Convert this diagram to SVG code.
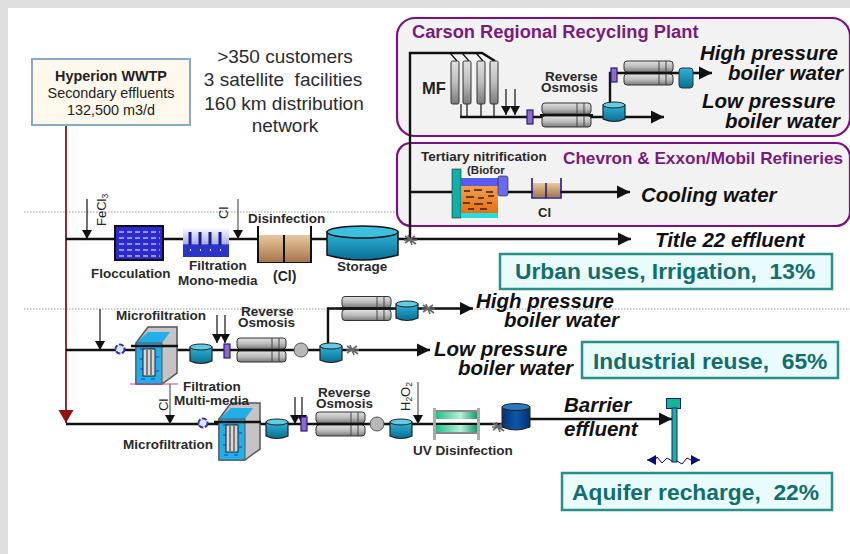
<svg xmlns="http://www.w3.org/2000/svg" width="850" height="554" viewBox="0 0 850 554">
<style>
text{font-family:"Liberation Sans",Arial,sans-serif;fill:#222}
.b{font-weight:bold}
.hy{font-size:14.4px;text-anchor:middle}
.lab{font-weight:bold;font-size:13.5px;fill:#2a2a2a}
.it{font-weight:bold;font-style:italic;font-size:20.5px;fill:#111}
.pur{font-weight:bold;fill:#7a1a80}
.info{font-size:19px;text-anchor:middle;fill:#2c2c2c;white-space:pre}
.res{font-weight:bold;font-size:22.8px;fill:#116e6e;white-space:pre}
.rbox{fill:#e9fbfb;stroke:#2a8f8a;stroke-width:2.5}
.plant{fill:#f2f2f2;stroke:#7d0f82;stroke-width:2.2}
.main{fill:none;stroke:#111;stroke-width:2.4}
.thin{fill:none;stroke:#111;stroke-width:1.2}
.gr{fill:none;stroke:#555;stroke-width:1.2}
.dot{stroke:#999;stroke-width:1;stroke-dasharray:1.5 1.5}
.pv{fill:#8a6cc0;stroke:#2a1a90;stroke-width:1.2}
</style>
<defs>
<linearGradient id="gD" x1="0" x2="1" y1="0" y2="0"><stop offset="0" stop-color="#06306f"/><stop offset=".5" stop-color="#0c58a8"/><stop offset="1" stop-color="#06306f"/></linearGradient>
<linearGradient id="gS" x1="0" x2="0" y1="0" y2="1"><stop offset="0" stop-color="#2fb4da"/><stop offset="1" stop-color="#0a6d92"/></linearGradient>
<linearGradient id="gR" x1="0" x2="0" y1="0" y2="1"><stop offset="0" stop-color="#e0e0e0"/><stop offset=".5" stop-color="#bdbdbd"/><stop offset="1" stop-color="#7a7a7a"/></linearGradient>
<linearGradient id="gC" x1="0" x2="0" y1="0" y2="1"><stop offset="0" stop-color="#e8c8a0"/><stop offset="1" stop-color="#a8764a"/></linearGradient>
<linearGradient id="gF" x1="0" x2="0" y1="0" y2="1"><stop offset="0" stop-color="#ffffff"/><stop offset=".55" stop-color="#aab0ea"/><stop offset=".6" stop-color="#2a34c8"/><stop offset="1" stop-color="#2a34c8"/></linearGradient>
<linearGradient id="gU" x1="0" x2="1" y1="0" y2="0"><stop offset="0" stop-color="#22c088"/><stop offset=".6" stop-color="#b8f0d8"/><stop offset="1" stop-color="#1a9a70"/></linearGradient>
<linearGradient id="gB" x1="0" x2="0" y1="0" y2="1"><stop offset="0" stop-color="#f0a050"/><stop offset="1" stop-color="#e87010"/></linearGradient>
<marker id="big" markerUnits="userSpaceOnUse" markerWidth="14" markerHeight="14" refX="13" refY="7" orient="auto"><path d="M0,0.5 L13,7 L0,13.5 Z" fill="#111"/></marker>
<marker id="sm" markerUnits="userSpaceOnUse" markerWidth="10" markerHeight="10" refX="9" refY="5" orient="auto"><path d="M0,0 L9,5 L0,10 Z" fill="#111"/></marker>
<marker id="red" markerUnits="userSpaceOnUse" markerWidth="14" markerHeight="16" refX="13" refY="8" orient="auto"><path d="M0,0.500 L13,8 L0,15.500 Z" fill="#8e1414"/></marker>
<marker id="nv" markerUnits="userSpaceOnUse" markerWidth="10" markerHeight="10" refX="9" refY="5" orient="auto"><path d="M0,0 L9,5 L0,10 Z" fill="#0a0a78"/></marker>
<g id="tank"><path d="M0,4 V18 Q11,23 22,18 V4 Z" fill="url(#gS)" stroke="#222" stroke-width="1.2"/><ellipse cx="11" cy="4" rx="11" ry="3" fill="#62cbe6" stroke="#222"/></g>
<g id="ro"><rect x="0" y="0" width="49" height="11" rx="3" fill="url(#gR)" stroke="#333"/><rect x="0" y="13" width="49" height="11" rx="3" fill="url(#gR)" stroke="#333"/><path d="M35,0 V24 M42,0 V24" stroke="#444" fill="none"/><path d="M-2,12 H51" stroke="#111" stroke-width="2.2"/></g>
<g id="mf"><path d="M0,16 L12,0 H41 V46 L26,57 H0 Z" fill="#c4c4c4" stroke="#555" stroke-width="1.5"/><path d="M0,16 L12,5 H34 L26,16 Z" fill="#22aee8"/><rect x="0" y="16" width="26" height="41" fill="#22aee8" stroke="#555"/><path d="M4,22 h4 M14,22 h4 M4,32 h3 M20,30 h3 M4,42 h3 M20,44 h3 M5,52 h4 M15,52 h4" stroke="#1a40c0" stroke-width="1.2"/><rect x="7" y="22" width="12" height="27" fill="#d8d8d8" stroke="#222"/><path d="M11,23 V48 M15,23 V48" stroke="#222"/><path d="M-5,19 H42" stroke="#111" stroke-width="2.4"/></g>
<g id="valve"><circle cx="0" cy="0" r="4.5" fill="#dfe6ff" stroke="#3434c0" stroke-width="2" stroke-dasharray="5 1.500"/></g>
<g id="splat"><path d="M-5,-4 L6,4 M-5,3 L5,-4 M-2,-5 L2,5 M-6,0 H7" stroke="#666" stroke-width="1.6"/></g>
</defs>

<rect width="850" height="554" fill="#dcdee0"/>
<rect x="8" y="8" width="842" height="546" fill="#fff"/>
<path class="dot" d="M24,212 H400 M24,309 H850"/>

<g id="plant-carson"><rect class="plant" x="397" y="18" width="453" height="118" rx="18"/></g>
<g id="plant-refineries"><rect class="plant" x="397" y="143" width="453" height="83" rx="14"/></g>

<g id="connectors">
<path d="M66,125 V423" fill="none" stroke="#8e1414" stroke-width="1.8" marker-end="url(#red)"/>
<path class="main" d="M66,239 H631" marker-end="url(#big)"/>
<path class="main" d="M66,350 H430" marker-end="url(#big)"/>
<path class="main" d="M328,345 V308.500 H473" marker-end="url(#big)"/>
<path class="main" d="M66,424 H502"/>
<path class="main" d="M530,419 H672" marker-end="url(#big)"/>
<path class="main" d="M410,239 V53 H482 L495,61"/>
<path class="main" d="M410,192 H630" marker-end="url(#big)"/>
<path class="main" d="M460,117 H664" marker-end="url(#big)"/>
<path class="main" d="M610,105 V73 H712" marker-end="url(#big)"/>
<path class="thin" d="M87,199 V239" marker-end="url(#sm)"/>
<path class="gr" d="M238,199 V239" marker-end="url(#sm)"/>
<path class="thin" d="M100,309 V350" marker-end="url(#sm)"/>
<path class="thin" d="M217,315 V343" marker-end="url(#sm)"/>
<path class="thin" d="M225,315 V343" marker-end="url(#sm)"/>
<path class="gr" d="M170,384 V424" marker-end="url(#sm)"/>
<path class="thin" d="M295,397 V424" marker-end="url(#sm)"/>
<path class="thin" d="M302,397 V424" marker-end="url(#sm)"/>
<path class="gr" d="M418,382 V424" marker-end="url(#sm)"/>
<path class="thin" d="M506,89 V115" marker-end="url(#sm)"/>
<path class="thin" d="M515,89 V115" marker-end="url(#sm)"/>
<path class="thin" d="M455,61 V104 M467,61 V117 M481,61 V117 M494,61 V117 M461,104 V117"/>
<path class="thin" d="M450,53 L457,61 M462,53 L469,61 M476,53 L483,61"/>
</g>

<g id="hyperion">
<rect x="32" y="59" width="158" height="66" fill="#fef9ec" stroke="#8aa9c4" stroke-width="2"/>
<text class="b hy" x="111" y="81">Hyperion WWTP</text>
<text class="hy" x="111" y="98">Secondary effluents</text>
<text class="hy" x="111" y="115">132,500 m3/d</text>
</g>
<g id="info">
<text class="info" x="285" y="63">&gt;350 customers</text>
<text class="info" x="283" y="86">3 satellite  facilities</text>
<text class="info" x="284" y="110">160 km distribution</text>
<text class="info" x="285" y="132">network</text>
</g>

<g id="flocculation">
<rect x="115" y="226" width="48" height="34" fill="#2a2ad0" stroke="#111" stroke-width="2"/>
<path d="M119,232 H160 M119,238 H160 M119,244 H160 M119,250 H160 M119,256 H160" stroke="#fff" stroke-width="1.2" stroke-dasharray="5 3"/>
<text class="lab" x="91" y="278">Flocculation</text>
<text x="106" y="226" font-size="13" transform="rotate(-90 106 226)">FeCl<tspan font-size="8.500" dy="2">3</tspan></text>
</g>
<g id="filtration-mono">
<rect x="183" y="227" width="46" height="30" fill="url(#gF)"/>
<path d="M190,232 V245 M200,232 V245 M210,232 V245 M220,232 V245" stroke="#1a1a90" stroke-width="3"/>
<path d="M190,250 h1 M200,250 h1 M210,250 h1 M220,250 h1" stroke="#fff" stroke-width="2"/>
<text class="lab" x="189" y="270">Filtration</text>
<text class="lab" x="178" y="285">Mono-media</text>
<text x="228" y="219" font-size="13" transform="rotate(-90 228 219)">Cl</text>
</g>
<g id="disinfection">
<path d="M258,226 V262 H311 V226" fill="none" stroke="#111" stroke-width="2"/>
<rect x="259" y="235" width="51" height="27" fill="url(#gC)"/>
<path d="M284,235 V262" stroke="#111" stroke-width="2"/>
<text class="lab" x="248" y="223">Disinfection</text>
<text class="b" x="273" y="281" font-size="14">(Cl)</text>
</g>
<g id="storage">
<path d="M327,232 V255 Q362,265 398,255 V232 Z" fill="url(#gS)" stroke="#111" stroke-width="1.500"/>
<ellipse cx="362.500" cy="232" rx="35.500" ry="6" fill="#3cc0e0" stroke="#111" stroke-width="1.500"/>
<text class="lab" x="337" y="271">Storage</text>
</g>
<use href="#splat" x="410" y="240"/>
<text class="it" x="655" y="247">Title 22 effluent</text>
<g id="res-urban"><rect class="rbox" x="500" y="254" width="332" height="35"/><text class="res" x="515" y="279">Urban uses, Irrigation,  13%</text></g>

<g id="carson">
<text class="pur" x="412" y="38" font-size="18.300">Carson Regional Recycling Plant</text>
<g fill="url(#gR)" stroke="#333"><rect x="451" y="61" width="8" height="43" rx="1.500"/><rect x="463" y="61" width="8" height="43" rx="1.500"/><rect x="477" y="61" width="8" height="43" rx="1.500"/><rect x="490" y="61" width="8" height="43" rx="1.500"/></g>
<text class="b" x="422" y="94" font-size="16.500">MF</text>
<rect class="pv" x="527" y="110" width="6" height="14"/>
<use href="#ro" x="542" y="103"/>
<use href="#tank" x="603" y="101"/>
<rect class="pv" x="611" y="68" width="6" height="14"/>
<use href="#ro" x="624" y="61"/>
<rect x="679" y="68" width="14" height="20" rx="3" fill="url(#gS)" stroke="#333"/>
<text class="lab" x="545" y="81">Reverse</text>
<text class="lab" x="541" y="92">Osmosis</text>
<text class="it" x="700" y="60">High pressure</text>
<text class="it" x="728" y="80">boiler water</text>
<text class="it" x="702" y="108">Low pressure</text>
<text class="it" x="725" y="128">boiler water</text>
</g>
<g id="refineries">
<rect x="452" y="169" width="9" height="49" fill="#0fb0a8" stroke="#222" stroke-width=".6"/>
<rect x="461" y="178" width="37" height="8" fill="#5a5af0"/>
<rect x="461" y="186" width="37" height="27" fill="url(#gB)"/>
<path d="M464,191 h6 M474,190 h8 M486,192 h7 M466,197 h8 M478,198 h6 M488,196 h6 M463,203 h7 M474,204 h9 M487,203 h5 M468,209 h6 M480,209 h7" stroke="#3a2008" stroke-width="1.500"/>
<rect x="461" y="213" width="37" height="5" fill="#22dede"/>
<rect x="498" y="176" width="10" height="20" rx="2" fill="#6a6af0" stroke="#222" stroke-width=".6"/>
<path d="M532,178 V198 H561 V178" fill="none" stroke="#1a1a80" stroke-width="1.600"/>
<rect x="533" y="183" width="27" height="14" fill="url(#gC)"/>
<path d="M546,183 V198" stroke="#1a1a80" stroke-width="1.500"/>
<text class="lab" x="421" y="161">Tertiary nitrification</text>
<text class="lab" x="467" y="174" style="font-size:11.500px">(Biofor</text>
<text class="pur" x="563" y="164" font-size="17.150">Chevron &amp; Exxon/Mobil Refineries</text>
<text class="b" x="538" y="217" font-size="13">Cl</text>
<text class="it" x="641" y="202">Cooling water</text>
</g>

<g id="train-industrial">
<use href="#valve" x="120" y="349"/>
<use href="#mf" x="136" y="327"/>
<path d="M130,384 H178" stroke="#c040a0" stroke-width="1"/>
<text class="lab" x="116" y="320">Microfiltration</text>
<use href="#tank" x="190" y="343"/>
<rect class="pv" x="224" y="344" width="6" height="14"/>
<use href="#ro" x="237" y="338"/>
<circle cx="301" cy="350" r="7" fill="#b8b8b8" stroke="#555"/>
<use href="#tank" x="320" y="342"/>
<use href="#splat" x="352" y="350"/>
<use href="#ro" x="342" y="296.500"/>
<use href="#tank" x="396" y="300"/>
<use href="#splat" x="428" y="309"/>
<text class="lab" x="241" y="316">Reverse</text>
<text class="lab" x="238" y="327">Osmosis</text>
<text class="it" x="476" y="308">High pressure</text>
<text class="it" x="504" y="327">boiler water</text>
<text class="it" x="434" y="356">Low pressure</text>
<text class="it" x="458" y="375">boiler water</text>
</g>
<g id="res-industrial"><rect class="rbox" x="582" y="342" width="256" height="36"/><text class="res" x="593" y="369">Industrial reuse,  65%</text></g>

<g id="train-aquifer">
<use href="#valve" x="203" y="423"/>
<use href="#mf" x="219" y="403"/>
<text class="lab" x="183" y="391">Filtration</text>
<text class="lab" x="174" y="405">Multi-media</text>
<text x="168" y="411" font-size="13" transform="rotate(-90 168 411)">Cl</text>
<text class="lab" x="123" y="449">Microfiltration</text>
<use href="#tank" x="266" y="418"/>
<rect class="pv" x="301" y="417" width="6" height="14"/>
<use href="#ro" x="316" y="412"/>
<text class="lab" x="318" y="397">Reverse</text>
<text class="lab" x="316" y="408">Osmosis</text>
<circle cx="377" cy="424" r="7" fill="#b8b8b8" stroke="#555"/>
<use href="#tank" x="390" y="418"/>
<text x="410" y="411" font-size="13" transform="rotate(-90 410 411)">H<tspan font-size="8.500" dy="2">2</tspan><tspan dy="-2">O</tspan><tspan font-size="8.500" dy="2">2</tspan></text>
<rect x="436" y="412" width="41" height="7" fill="url(#gU)"/>
<rect x="436" y="425" width="41" height="7" fill="url(#gU)"/>
<path d="M436,411 H477 M436,433 H477" stroke="#888" stroke-width="2"/>
<rect x="433" y="408" width="3" height="32" fill="#aaa"/>
<rect x="477" y="408" width="3" height="32" fill="#aaa"/>
<text class="lab" x="413" y="455">UV Disinfection</text>
<use href="#splat" x="498" y="427"/>
<path d="M502,407 V427 Q516,433 530,427 V407 Z" fill="url(#gD)" stroke="#222"/>
<ellipse cx="516" cy="407" rx="14" ry="3.500" fill="#2a78c0" stroke="#222"/>
<text class="it" x="564" y="412">Barrier</text>
<text class="it" x="564" y="436">effluent</text>
</g>
<g id="well">
<rect x="666.500" y="398.500" width="14" height="10" fill="#12b890" stroke="#1a1a90"/>
<rect x="672" y="408" width="5" height="54" fill="#12b890" stroke="#1a1a90"/>
<path d="M672,461 L667,458 L662,463 L657,457 L655,460 H647" fill="none" stroke="#0a0a78" stroke-width="1" marker-end="url(#nv)"/>
<path d="M677,461 L682,464 L687,458 L691,460 H700" fill="none" stroke="#0a0a78" stroke-width="1" marker-end="url(#nv)"/>
</g>
<g id="res-aquifer"><rect class="rbox" x="562" y="473" width="270" height="37"/><text class="res" x="572" y="500">Aquifer recharge,  22%</text></g>
</svg>
